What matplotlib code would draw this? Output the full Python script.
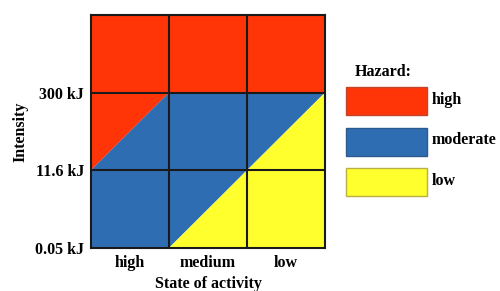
import matplotlib
import matplotlib.pyplot as plt
from matplotlib.patches import Polygon, Rectangle

matplotlib.use("Agg")

plt.rcParams["font.family"] = ["Liberation Serif", "DejaVu Serif"]
plt.rcParams["font.weight"] = "bold"

# State of activity (columns) and intensity levels (rows)
activity_labels = ["high", "medium", "low"]
intensity_labels = ["0.05 kJ", "11.6 kJ", "300 kJ"]

# Hazard zones as polygons in grid units (column, intensity level)
hazard_names = ["high", "moderate", "low"]
hazard_colors = ["#ff3508", "#2f6db3", "#ffff2e"]
hazard_edges = ["#c0452a", "#2a5a90", "#b8b040"]
zone_high = [(0, 3), (3, 3), (3, 2), (1, 2), (0, 1)]
zone_moderate = [(0, 1), (1, 2), (3, 2), (1, 0), (0, 0)]
zone_low = [(1, 0), (3, 2), (3, 0)]
zones = [zone_high, zone_moderate, zone_low]

fig = plt.figure(figsize=(5, 2.91), dpi=100)
ax = fig.add_axes([0.182, 0.148, 0.468, 0.801])

for verts, color in zip(zones, hazard_colors):
    ax.add_patch(Polygon(verts, closed=True, facecolor=color, edgecolor="none"))

n_cols = len(activity_labels)
n_rows = 3
for i in range(1, n_cols):
    ax.axvline(i, color="#1a1a1a", lw=1.5)
for j in range(1, n_rows):
    ax.axhline(j, color="#1a1a1a", lw=1.5)

ax.set_xlim(0, n_cols)
ax.set_ylim(0, n_rows)
for s in ax.spines.values():
    s.set_color("#1a1a1a")
    s.set_linewidth(1.5)

ax.set_xticks([i + 0.5 for i in range(n_cols)])
ax.set_xticklabels(activity_labels, fontsize=11.5, fontweight="bold")
ax.set_yticks(range(len(intensity_labels)))
ax.set_yticklabels(intensity_labels, fontsize=11.5, fontweight="bold")
ax.tick_params(length=0, pad=5)
ax.set_xlabel("State of activity", fontsize=11.5, fontweight="bold", labelpad=4)
ax.set_ylabel("Intensity", fontsize=11.5, fontweight="bold", labelpad=5)

# legend drawn by hand so boxes match the reference size
fig.text(0.71, 0.753, "Hazard:", fontsize=11.5, fontweight="bold",
         ha="left", va="center")
box_x, box_w, box_h = 0.692, 0.162, 0.095
box_tops = [0.700, 0.560, 0.422]
for name, fc, ec, top in zip(hazard_names, hazard_colors, hazard_edges, box_tops):
    fig.patches.append(Rectangle((box_x, top - box_h), box_w, box_h,
                                 transform=fig.transFigure, facecolor=fc,
                                 edgecolor=ec, lw=1))
    fig.text(box_x + box_w + 0.01, top - box_h / 2 + 0.005, name,
             fontsize=11.5, fontweight="bold", ha="left", va="center")

fig.savefig("out.png", dpi=100)
plt.close(fig)
